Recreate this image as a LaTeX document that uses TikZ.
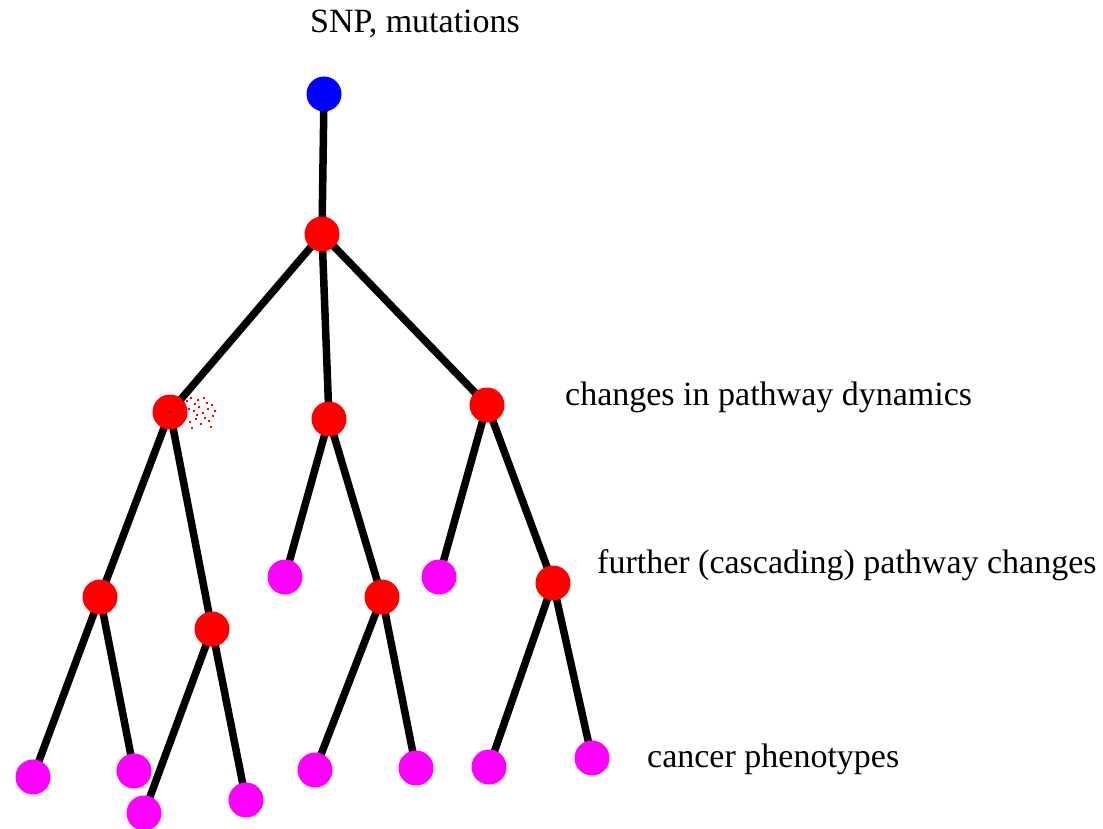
\documentclass[tikz,border=0pt]{standalone}
\usepackage{fontspec}
\setmainfont{Liberation Serif}
\definecolor{srcblue}{RGB}{0,0,255}
\definecolor{pathred}{RGB}{255,0,0}
\definecolor{phenomag}{RGB}{255,0,255}
\pgfdeclarelayer{back}
\pgfsetlayers{back,main}
\begin{document}
\begin{tikzpicture}[x=1pt,y=-1pt,
  dot/.style={circle,inner sep=0pt,minimum size=35pt,draw=none},
  source/.style={dot,fill=srcblue},
  pathway/.style={dot,fill=pathred},
  phenotype/.style={dot,fill=phenomag},
  link/.style={line width=7.5pt,black},
  caption/.style={anchor=base west,inner sep=0pt,font=\fontsize{34}{40}\selectfont}]
\useasboundingbox (0,0) rectangle (1103,829);

% tree nodes
\node[source]    (snp) at (324,94) {};
\node[pathway]   (p0)  at (322,234) {};
\node[pathway]   (pL)  at (170,412) {};
\node[pathway]   (pM)  at (329,419) {};
\node[pathway]   (pR)  at (487,405) {};
\node[pathway]   (pLL) at (100,597) {};
\node[pathway]   (pLR) at (212,629) {};
\node[phenotype] (mM)  at (285,577) {};
\node[pathway]   (pMR) at (382,597) {};
\node[phenotype] (mR)  at (439,577) {};
\node[pathway]   (pRR) at (553,583) {};
\node[phenotype] (c1)  at (33,777) {};
\node[phenotype] (c2)  at (134,771) {};
\node[phenotype] (c3)  at (144,813) {};
\node[phenotype] (c4)  at (246,800) {};
\node[phenotype] (c5)  at (315,770) {};
\node[phenotype] (c6)  at (416,768) {};
\node[phenotype] (c7)  at (489,767) {};
\node[phenotype] (c8)  at (592,758) {};

% branches, drawn behind the nodes
\begin{pgfonlayer}{back}
\draw[link] (snp.center) -- (p0.center);
\draw[link] (p0.center) -- (pL.center);
\draw[link] (p0.center) -- (pM.center);
\draw[link] (p0.center) -- (pR.center);
\draw[link] (pL.center) -- (pLL.center);
\draw[link] (pL.center) -- (pLR.center);
\draw[link] (pM.center) -- (mM.center);
\draw[link] (pM.center) -- (pMR.center);
\draw[link] (pR.center) -- (mR.center);
\draw[link] (pR.center) -- (pRR.center);
\draw[link] (pLL.center) -- (c1.center);
\draw[link] (pLL.center) -- (c2.center);
\draw[link] (pLR.center) -- (c3.center);
\draw[link] (pLR.center) -- (c4.center);
\draw[link] (pMR.center) -- (c5.center);
\draw[link] (pMR.center) -- (c6.center);
\draw[link] (pRR.center) -- (c7.center);
\draw[link] (pRR.center) -- (c8.center);
\end{pgfonlayer}

% sprayed speckles beside the left pathway node
\foreach \sx/\sy in {187/401,191/398,195/404,198/400,204/398,207/403,
  189/409,194/411,199/407,203/413,208/409,212/405,215/411,
  186/417,190/422,196/419,201/424,205/418,209/421,213/416,
  192/428,184/413,197/415,211/427,182/405}
  \fill[pathred] (\sx-1.2,\sy-1.2) rectangle (\sx+1.2,\sy+1.2);
\fill[black] (pL.center) circle (1.3pt);

% captions
\node[caption] (t1) at (310,33)  {SNP, mutations};
\node[caption] (t2) at (565,405) {changes in pathway dynamics};
\node[caption] (t3) at (597,573) {further (cascading) pathway changes};
\node[caption] (t4) at (647,767) {cancer phenotypes};
\end{tikzpicture}
\end{document}
